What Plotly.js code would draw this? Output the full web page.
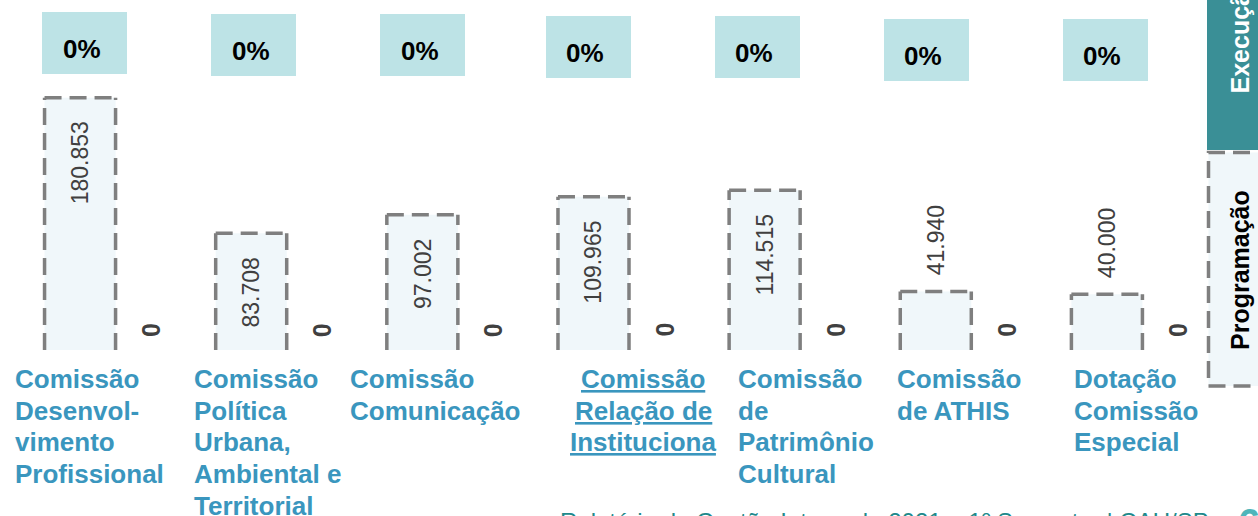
<!DOCTYPE html>
<html>
<head>
<meta charset="utf-8">
<script src="https://cdn.plot.ly/plotly-3.0.1.min.js"></script>
<style>
html,body{margin:0;padding:0;background:#fff;}
#chart{width:1258px;height:516px;}
</style>
</head>
<body>
<div id="chart"></div>
<script>
// ---- data ----
const categories = [
  "Comissão Desenvolvimento Profissional",
  "Comissão Política Urbana, Ambiental e Territorial",
  "Comissão Comunicação",
  "Comissão Relação de Instituciona",
  "Comissão de Patrimônio Cultural",
  "Comissão de ATHIS",
  "Dotação Comissão Especial"
];
const categoryLabelLines = [
  ["Comissão", "Desenvol-", "vimento", "Profissional"],
  ["Comissão", "Política", "Urbana,", "Ambiental e", "Territorial"],
  ["Comissão", "Comunicação"],
  ["Comissão", "Relação de", "Instituciona"],
  ["Comissão", "de", "Patrimônio", "Cultural"],
  ["Comissão", "de ATHIS"],
  ["Dotação", "Comissão", "Especial"]
];
const programacao = [180853, 83708, 97002, 109965, 114515, 41940, 40000];
const execucao = [0, 0, 0, 0, 0, 0, 0];
const seriesNames = ["Programação", "Execução"];
const footerText = "Relatório de Gestão Integrada 2021 – 1º Semestre | CAU/SP";

// ---- layout helpers (styles / positions, not data) ----
const FONT = "Liberation Sans, Arial, sans-serif";
const TEAL = "#3a8f96";
const LABEL_BLUE = "#3a96be";
const BAR_FILL = "#f0f7fa";
const DASH_GRAY = "#7f7f7f";
const labelShift = [-103, -95, -110, 14, -64, -76, -70];   // px from group centre
const labelAnchor = ["left","left","left","center","left","left","left"];
const pctShift = [-31, -33, -35, -41, -43, -45, -37];
const pctTop = [12, 14, 14, 16, 16, 19, 19];

const PLOT_TOP = 0, PLOT_BOTTOM = 350, ML = 30, MR = 30, W = 1258;
const plotW = W - ML - MR;
const py = p => (PLOT_BOTTOM - p) / (PLOT_BOTTOM - PLOT_TOP); // pixel -> paper y
const px = p => (p - ML) / plotW;                              // pixel -> paper x

function fmt(v) { return String(Math.round(v)).replace(/\B(?=(\d{3})+(?!\d))/g, "."); }

const BARW = 0.415;
const catPx = plotW / categories.length;
const progShift = -BARW * catPx / 2;
const execShift = BARW * catPx / 2;

const traces = [
  { type: "bar", name: seriesNames[0], x: categories, y: programacao,
    marker: { color: BAR_FILL, line: { width: 0 } }, hoverinfo: "skip" },
  { type: "bar", name: seriesNames[1], x: categories, y: execucao,
    marker: { color: TEAL, line: { width: 0 } }, hoverinfo: "skip" }
];

const shapes = [];
const annotations = [];
const maxV = Math.max(...programacao);

programacao.forEach((v, i) => {
  const xl = i - BARW, xr = i;
  const ln = { color: DASH_GRAY, width: 3.5, dash: "17px,8px" };
  shapes.push({ type: "line", xref: "x", yref: "y", x0: xl, x1: xl, y0: 0, y1: v, line: ln, layer: "above" });
  shapes.push({ type: "line", xref: "x", yref: "y", x0: xl, x1: xr, y0: v, y1: v, line: ln, layer: "above" });
  shapes.push({ type: "line", xref: "x", yref: "y", x0: xr, x1: xr, y0: 0, y1: v, line: ln, layer: "above" });

  const inside = v > 0.3 * maxV;
  annotations.push({
    xref: "x", yref: "y", x: categories[i], y: v, xshift: progShift,
    yshift: inside ? -22 : 14, yanchor: inside ? "top" : "bottom", xanchor: "center",
    text: fmt(v), textangle: -90, showarrow: false,
    font: { family: FONT, size: 23, color: "#404040" }
  });

  // execução value labels
  annotations.push({
    xref: "x", yref: "y", x: categories[i], y: execucao[i], xshift: execShift,
    yshift: 11, yanchor: "bottom", xanchor: "center",
    text: fmt(execucao[i]), textangle: -90, showarrow: false,
    font: { family: FONT, size: 25, color: "#404040", weight: "bold" }
  });

  // percentage boxes (box + text)
  const pct = Math.round(execucao[i] / v * 100) + "%";
  annotations.push({
    xref: "x", yref: "paper", x: categories[i], xshift: pctShift[i],
    y: py(pctTop[i]), yanchor: "top", xanchor: "center",
    text: " ", showarrow: false, width: 85, height: 62, borderpad: 0, borderwidth: 0,
    bgcolor: "#bde3e6"
  });
  annotations.push({
    xref: "x", yref: "paper", x: categories[i], xshift: pctShift[i] - 3,
    y: py(pctTop[i] + 37), yanchor: "middle", xanchor: "center",
    text: pct, showarrow: false,
    font: { family: FONT, size: 26, color: "#000", weight: "bold" }
  });

  // category labels, one line at a time
  categoryLabelLines[i].forEach((t, k) => {
    annotations.push({
      xref: "x", yref: "paper", x: categories[i], xshift: labelShift[i],
      y: py(379 + k * 31.7), yanchor: "middle", xanchor: labelAnchor[i],
      text: i === 3 ? "<u>" + t + "</u>" : t, showarrow: false, align: labelAnchor[i],
      font: { family: FONT, size: 26, color: LABEL_BLUE, weight: "bold" }
    });
  });
});

// legend drawn as boxes (rotated, as in original)
shapes.push({ type: "rect", xref: "paper", yref: "paper", x0: px(1207), x1: px(1275), y0: py(150), y1: py(-20),
  fillcolor: TEAL, line: { width: 0 }, layer: "above" });
shapes.push({ type: "rect", xref: "paper", yref: "paper", x0: px(1208.5), x1: px(1275), y0: py(386), y1: py(152.5),
  fillcolor: BAR_FILL, line: { color: DASH_GRAY, width: 3.5, dash: "17px,8px" }, layer: "above" });
annotations.push({ xref: "paper", yref: "paper", x: px(1240), y: py(96), xanchor: "center", yanchor: "bottom",
  text: seriesNames[1], textangle: -90, showarrow: false, font: { family: FONT, size: 25, color: "#fff", weight: "bold" } });
annotations.push({ xref: "paper", yref: "paper", x: px(1240), y: py(270), xanchor: "center", yanchor: "middle",
  text: seriesNames[0], textangle: -90, showarrow: false, font: { family: FONT, size: 25, color: "#000", weight: "bold" } });

// footer (cut off at the bottom, as in the original page)
annotations.push({ xref: "paper", yref: "paper", x: px(558), y: py(506), xanchor: "left", yanchor: "top",
  text: footerText, showarrow: false, font: { family: FONT, size: 24, color: "#1f8a8c" } });
annotations.push({ xref: "paper", yref: "paper", x: px(1236), y: py(499), xanchor: "left", yanchor: "top",
  text: "6", showarrow: false, font: { family: FONT, size: 40, color: "#4fb5ba", weight: "bold" } });

const layout = {
  width: 1258, height: 516,
  margin: { l: ML, r: MR, t: PLOT_TOP, b: 516 - PLOT_BOTTOM, pad: 0 },
  paper_bgcolor: "#fff", plot_bgcolor: "#fff",
  barmode: "group", bargap: 0.17, bargroupgap: 0,
  showlegend: false,
  xaxis: { type: "category", range: [-0.5, categories.length - 0.5], autorange: false,
           showticklabels: false, showgrid: false, zeroline: false, showline: false, ticks: "" },
  yaxis: { range: [0, 251000], autorange: false, showticklabels: false, showgrid: false, zeroline: false, showline: false, ticks: "" },
  shapes: shapes,
  annotations: annotations,
  font: { family: FONT }
};

Plotly.newPlot("chart", traces, layout, { displayModeBar: false, staticPlot: true });
</script>
</body>
</html>
